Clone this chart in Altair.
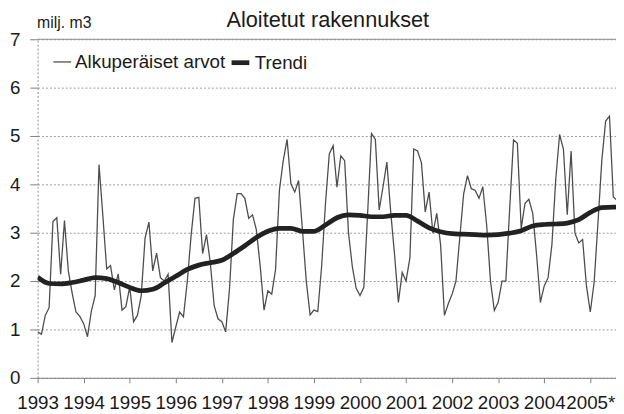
import json
import altair as alt
import pandas as pd

# ---- data ----
chart_title = "Aloitetut rakennukset"
unit_label = "milj. m3"
series_names = ["Alkuperäiset arvot", "Trendi"]
year_labels = ["1993", "1994", "1995", "1996", "1997", "1998", "1999",
               "2000", "2001", "2002", "2003", "2004", "2005*"]

# monthly original values (million m3), Jan 1993 ...
orig_1993 = [0.95, 0.90, 1.29, 1.45, 3.23, 3.31, 2.14, 3.25, 2.21, 1.75, 1.36, 1.27]
orig_1994 = [1.12, 0.85, 1.38, 1.70, 4.41, 3.35, 2.25, 2.32, 1.82, 2.15, 1.40, 1.47]
orig_1995 = [1.88, 1.16, 1.29, 1.70, 2.89, 3.22, 2.21, 2.58, 2.07, 2.00, 2.14, 0.73]
orig_1996 = [1.05, 1.36, 1.26, 2.00, 2.95, 3.71, 3.73, 2.57, 2.96, 2.38, 1.49, 1.22]
orig_1997 = [1.16, 0.95, 1.84, 3.27, 3.81, 3.81, 3.71, 3.30, 3.37, 3.06, 2.31, 1.40]
orig_1998 = [1.80, 1.73, 2.24, 3.88, 4.49, 4.93, 4.01, 3.84, 4.08, 3.06, 2.00, 1.30]
orig_1999 = [1.40, 1.37, 2.30, 3.60, 4.63, 4.80, 3.94, 4.59, 4.49, 3.00, 2.30, 1.85]
orig_2000 = [1.70, 1.87, 3.43, 5.05, 4.93, 3.47, 3.95, 4.46, 3.43, 2.55, 1.56, 2.18]
orig_2001 = [2.00, 2.48, 4.73, 4.69, 4.45, 3.43, 3.84, 2.99, 3.40, 2.75, 1.29, 1.53]
orig_2002 = [1.73, 2.00, 2.90, 3.80, 4.18, 3.91, 3.88, 3.71, 3.95, 3.16, 2.00, 1.39]
orig_2003 = [1.56, 2.00, 2.00, 3.50, 4.92, 4.85, 3.09, 3.61, 3.69, 3.40, 2.55, 1.56]
orig_2004 = [1.90, 2.07, 2.75, 4.10, 5.03, 4.73, 3.37, 4.69, 2.99, 2.79, 2.86, 1.90]
orig_2005 = [1.36, 1.97, 3.20, 4.49, 5.31, 5.41, 3.74, 3.67]

# trend read every third month (month index from Jan 1993)
trend_months = [0, 3, 6, 9, 12, 15, 18, 21, 24, 27, 30, 33, 36, 39, 42, 45, 48,
                51, 54, 57, 60, 63, 66, 69, 72, 75, 78, 81, 84, 87, 90, 93, 96,
                99, 102, 105, 108, 111, 114, 117, 120, 123, 126, 129, 132, 135,
                138, 141, 144, 147, 150, 151]
trend_values = [2.08, 1.95, 1.94, 1.97, 2.02, 2.07, 2.05, 1.97, 1.87, 1.80, 1.83,
                1.96, 2.10, 2.24, 2.33, 2.38, 2.43, 2.57, 2.73, 2.90, 3.03, 3.09,
                3.09, 3.03, 3.03, 3.16, 3.31, 3.37, 3.36, 3.33, 3.33, 3.36, 3.36,
                3.24, 3.10, 3.02, 2.98, 2.97, 2.96, 2.95, 2.96, 2.99, 3.04, 3.14,
                3.17, 3.18, 3.20, 3.27, 3.42, 3.52, 3.53, 3.53]

original = (orig_1993 + orig_1994 + orig_1995 + orig_1996 + orig_1997 + orig_1998
            + orig_1999 + orig_2000 + orig_2001 + orig_2002 + orig_2003
            + orig_2004 + orig_2005)

df_orig = pd.DataFrame({"kk": list(range(len(original))), "arvo": original,
                        "sarja": series_names[0]})
df_trend = pd.DataFrame({"kk": trend_months, "arvo": trend_values,
                         "sarja": series_names[1]})

FONT = "Liberation Sans"
TXT = "#1a1a1a"

label_expr = json.dumps(year_labels) + "[round(datum.value / 12)]"

x_enc = alt.X(
    "kk:Q",
    scale=alt.Scale(domain=[0, 150.7], nice=False, zero=False),
    axis=alt.Axis(
        values=[12 * i for i in range(len(year_labels))],
        labelExpr=label_expr, title=None, grid=False,
        labelFlush=False, labelOverlap=False,
        labelFontSize=19, labelFont=FONT, labelColor=TXT, labelPadding=11,
        tickSize=5, tickColor="#808080", domainColor="#808080", domainWidth=1,
    ),
)
y_enc = alt.Y(
    "arvo:Q",
    scale=alt.Scale(domain=[0, 7], nice=False, zero=True),
    axis=alt.Axis(
        values=list(range(8)), format="d",
        title=unit_label, titleAngle=0, titleAlign="left",
        titleBaseline="alphabetic", titleX=-1, titleY=-12,
        titleFontSize=16, titleFontWeight="normal", titleFont=FONT, titleColor=TXT,
        labelFontSize=19, labelFont=FONT, labelColor=TXT, labelPadding=10,
        tickSize=8, tickColor="#808080",
        domainColor="#909090", domainDash=[2, 2],
        grid=True, gridColor="#9a9a9a", gridDash=[2, 2], gridWidth=1,
    ),
)

legend = alt.Legend(
    title=None, orient="none", legendX=15, legendY=12, direction="horizontal",
    symbolType="stroke", symbolSize=324, labelFontSize=19, labelFont=FONT,
    labelColor=TXT, labelOffset=3, columnPadding=-5, padding=0,
)
color_enc = alt.Color("sarja:N",
                      scale=alt.Scale(domain=series_names, range=["#4d4d4d", "#222222"]),
                      legend=legend)
width_enc = alt.StrokeWidth("sarja:N",
                            scale=alt.Scale(domain=series_names, range=[1.3, 4.8]),
                            legend=legend)

line_orig = alt.Chart(df_orig).mark_line(clip=True, interpolate="linear").encode(
    x=x_enc, y=y_enc, color=color_enc, strokeWidth=width_enc)
line_trend = alt.Chart(df_trend).mark_line(clip=True, interpolate="monotone").encode(
    x=x_enc, y=y_enc, color=color_enc, strokeWidth=width_enc)

top_rule = alt.Chart(pd.DataFrame({"arvo": [7]})).mark_rule(
    color="#8a8a8a", strokeWidth=1).encode(y=alt.Y("arvo:Q"))

title_mark = alt.Chart(pd.DataFrame({"t": [chart_title]})).mark_text(
    fontSize=22, font=FONT, color=TXT, align="center", baseline="alphabetic"
).encode(text="t:N", x=alt.value(294), y=alt.value(-12))

chart = alt.layer(top_rule, line_orig, line_trend, title_mark).properties(
    width=586, height=343,
    autosize=alt.AutoSizeParams(type="none"),
    padding={"left": 30, "top": 29, "right": 0, "bottom": 34},
).configure_view(stroke=None)

chart.save("out.html", embed_options={"renderer": "svg", "actions": False})
